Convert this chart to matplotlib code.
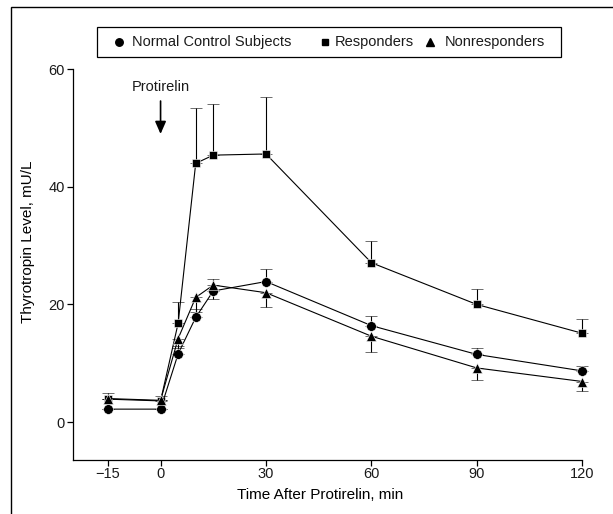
import numpy as np
import matplotlib.pyplot as plt
from matplotlib.lines import Line2D
from matplotlib.patches import Rectangle

plt.rcParams['font.family'] = ['Liberation Sans', 'DejaVu Sans']
plt.rcParams['text.color'] = '#1a1a1a'
plt.rcParams['xtick.labelcolor'] = '#1a1a1a'
plt.rcParams['ytick.labelcolor'] = '#1a1a1a'

# time points (min after protirelin)
t = [-15, 0, 5, 10, 15, 30, 60, 90, 120]

# thyrotropin level, mU/L
normal = [2.2, 2.2, 11.6, 17.8, 22.3, 23.9, 16.4, 11.5, 8.7]
normal_up = [0, 0, 1.4, 1.5, 2.1, 2.2, 1.6, 1.1, 0.9]

responders = [3.9, 3.6, 16.8, 44.0, 45.4, 45.6, 27.1, 20.0, 15.1]
responders_up = [1.0, 0.9, 3.7, 9.5, 8.7, 9.7, 3.7, 2.7, 2.5]

nonresponders = [4.0, 3.7, 14.2, 21.2, 23.3, 22.0, 14.6, 9.2, 6.9]
nonresponders_lo = [0, 0, 1.6, 2.4, 2.3, 2.4, 2.6, 2.1, 1.6]

labels = ['Normal Control Subjects', 'Responders', 'Nonresponders']

W, H = 613, 514
fig = plt.figure(figsize=(W / 100, H / 100), dpi=100)
ax = fig.add_axes([72.7 / W, 1 - 459.7 / H, 509.6 / W, 390.4 / H])

def fx(px):
    return px / W

def fy(py):
    return 1 - py / H

zeros = [0] * len(t)
style = dict(color='black', lw=0.8, ecolor='black', elinewidth=0.8,
             capsize=4.2, capthick=0.8, mfc='black', mec='white', mew=0.4)

series = [
    ax.errorbar(t, responders, yerr=[zeros, responders_up], marker='s', ms=5.6, **style),
    ax.errorbar(t, normal, yerr=[zeros, normal_up], marker='o', ms=7, **style),
    ax.errorbar(t, nonresponders, yerr=[nonresponders_lo, zeros], marker='^', ms=7.2, **style),
]
for cont in series:
    for art in cont.get_children():
        art.set_clip_on(False)

ax.set_xlim(-25, 120)
ax.set_ylim(-6.4, 60)
ax.set_xticks([-15, 0, 30, 60, 90, 120])
ax.set_yticks([0, 20, 40, 60])
ax.spines['top'].set_visible(False)
ax.spines['right'].set_visible(False)
ax.spines['left'].set_linewidth(0.9)
ax.spines['bottom'].set_linewidth(0.9)
ax.tick_params(direction='out', length=4, width=0.9, labelsize=10.5, pad=1.5)

ax.set_xlabel('Time After Protirelin, min', fontsize=11)
ax.xaxis.label.set_va('center')
ax.xaxis.set_label_coords((320 - 72.7) / 509.6, -(495 - 459.7) / 390.4)
ax.set_ylabel('Thyrotropin Level, mU/L', fontsize=11)
ax.yaxis.label.set_va('center')
ax.yaxis.set_label_coords((28.3 - 72.7) / 509.6, (459.7 - 241.5) / 390.4)

# protirelin injection marker
ax.annotate('', xy=(0, 49.0), xytext=(0, 54.6),
            arrowprops=dict(arrowstyle='-|>,head_length=0.5,head_width=0.22',
                            color='black', lw=1.2, mutation_scale=15,
                            shrinkA=0, shrinkB=0))
ax.text(0, 57.0, 'Protirelin', ha='center', va='center', fontsize=10.5)

# legend box
fig.add_artist(Rectangle((fx(96.7), fy(57.3)), fx(560.7) - fx(96.7), fy(26.7) - fy(57.3),
                         transform=fig.transFigure, fill=False,
                         edgecolor='black', lw=0.9))
for mk, ms, mx, tx, lab in [('o', 5.4, 119.3, 131.7, labels[0]),
                            ('s', 4.6, 325, 335, labels[1]),
                            ('^', 5.6, 430, 445, labels[2])]:
    fig.add_artist(Line2D([fx(mx)], [fy(42)], ls='', marker=mk, ms=ms,
                          color='black', transform=fig.transFigure))
    fig.text(fx(tx), fy(42), lab, ha='left', va='center', fontsize=10.5)

# outer frame (cut at right and bottom like the source)
fig.add_artist(Rectangle((fx(10.7), -0.2), 1.5, fy(7.3) + 0.2,
                         transform=fig.transFigure, fill=False,
                         edgecolor='black', lw=1.0, clip_on=False))

fig.savefig('out.png', dpi=100)
